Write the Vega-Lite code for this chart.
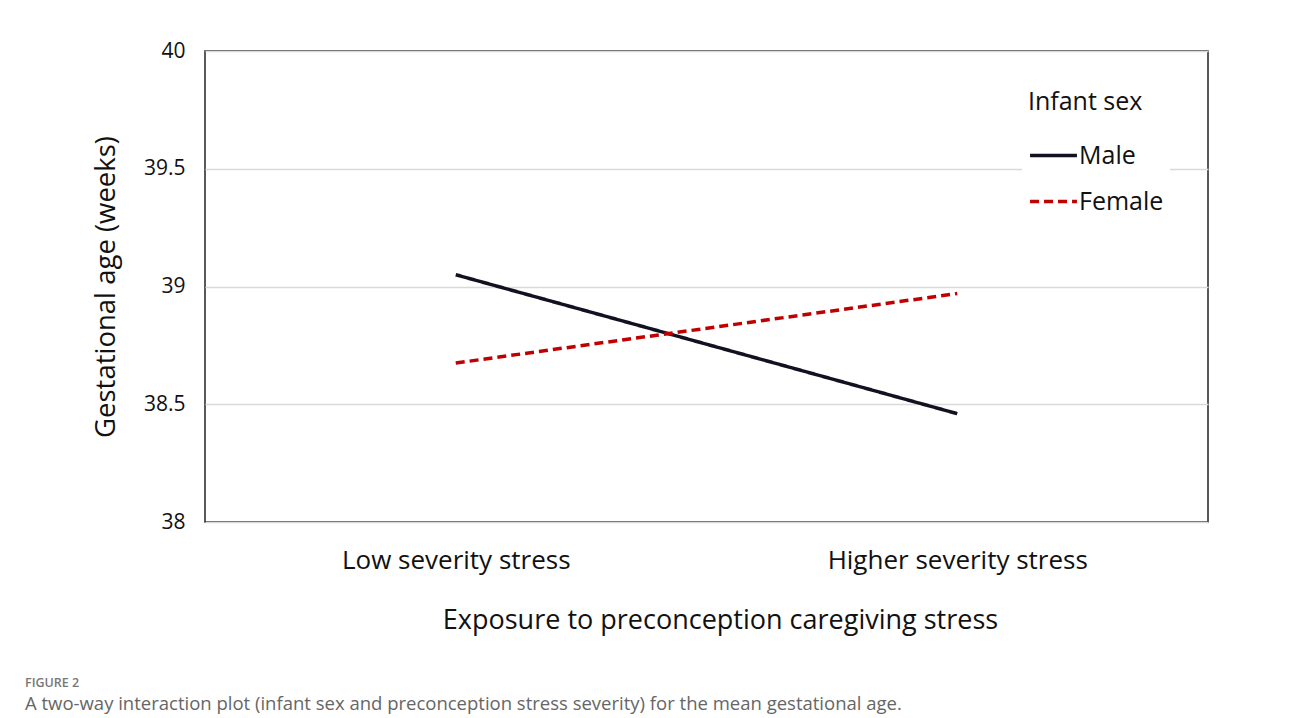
{
  "$schema": "https://vega.github.io/schema/vega-lite/v6.json",
  "width": 1003,
  "height": 471,
  "padding": {"left": 25, "top": 40, "right": 10, "bottom": 5},
  "background": "white",
  "config": {
    "view": {"stroke": "#222222", "strokeWidth": 1.5},
    "font": "Open Sans"
  },
  "title": {
    "text": "FIGURE 2",
    "subtitle": "A two-way interaction plot (infant sex and preconception stress severity) for the mean gestational age.",
    "orient": "bottom",
    "anchor": "start",
    "frame": "group",
    "font": "Open Sans",
    "fontSize": 12.5,
    "fontWeight": 600,
    "color": "#777777",
    "subtitleFont": "Open Sans",
    "subtitleFontSize": 18.5,
    "subtitleColor": "#666666",
    "subtitlePadding": 5,
    "offset": 44,
    "dx": -180
  },
  "data": {
    "values": [
      {"stress": "Low severity stress", "sex": "Male", "ga": 39.05},
      {"stress": "Higher severity stress", "sex": "Male", "ga": 38.46},
      {"stress": "Low severity stress", "sex": "Female", "ga": 38.675},
      {"stress": "Higher severity stress", "sex": "Female", "ga": 38.97}
    ]
  },
  "mark": {"type": "line", "strokeWidth": 3.5},
  "encoding": {
    "x": {
      "field": "stress",
      "type": "nominal",
      "sort": ["Low severity stress", "Higher severity stress"],
      "scale": {"type": "point", "padding": 0.5},
      "title": "Exposure to preconception caregiving stress",
      "axis": {
        "labelAngle": 0,
        "labelFontSize": 26,
        "labelLimit": 500,
        "labelColor": "#111111",
        "labelPadding": 25,
        "ticks": false,
        "domain": false,
        "grid": false,
        "titleFontSize": 27,
        "titleFontWeight": "normal",
        "titleColor": "#111111",
        "titlePadding": 34,
        "titleX": 515
      }
    },
    "y": {
      "field": "ga",
      "type": "quantitative",
      "scale": {"domain": [38, 40], "nice": false, "zero": false},
      "title": "Gestational age (weeks)",
      "axis": {
        "values": [38, 38.5, 39, 39.5, 40],
        "format": "~g",
        "labelFontSize": 21,
        "labelColor": "#111111",
        "labelPadding": 20,
        "ticks": false,
        "domain": false,
        "gridColor": "#d9d9d9",
        "gridWidth": 1.5,
        "titleFontSize": 27.5,
        "titleFontWeight": "normal",
        "titleColor": "#111111",
        "titlePadding": 23
      }
    },
    "color": {
      "field": "sex",
      "type": "nominal",
      "sort": ["Male", "Female"],
      "scale": {"domain": ["Male", "Female"], "range": ["#111122", "#c00000"]},
      "title": "Infant sex",
      "legend": {
        "orient": "none",
        "legendX": 817,
        "legendY": 33,
        "fillColor": "white",
        "padding": 6,
        "titleFontSize": 25,
        "titleFontWeight": "normal",
        "titleColor": "#111111",
        "titlePadding": 15,
        "labelFontSize": 25,
        "labelColor": "#111111",
        "symbolType": "stroke",
        "symbolSize": 2200,
        "symbolStrokeWidth": 3.5,
        "rowPadding": 7,
        "labelOffset": 0
      }
    },
    "strokeDash": {
      "field": "sex",
      "type": "nominal",
      "scale": {"domain": ["Male", "Female"], "range": [[1, 0], [9, 5]]},
      "legend": null
    }
  }
}
